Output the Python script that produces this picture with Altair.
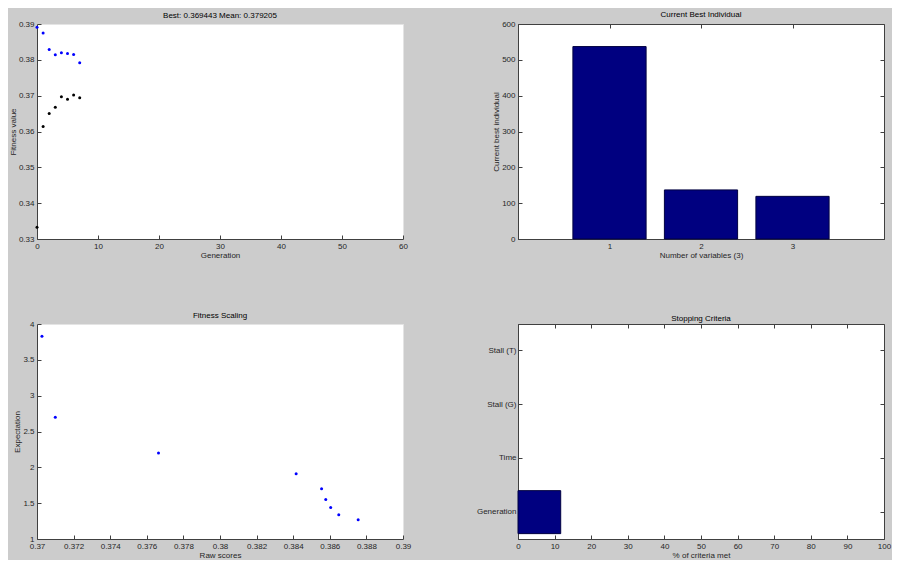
import altair as alt
import pandas as pd

# ---------------- data ----------------
generations = [0, 1, 2, 3, 4, 5, 6, 7]
best_fitness = [0.3333, 0.3614, 0.3650, 0.3668, 0.3697, 0.3690, 0.3702, 0.3694]
mean_fitness = [0.3891, 0.3875, 0.3829, 0.3814, 0.3820, 0.3818, 0.3815, 0.3792]
best_title = "Best: 0.369443 Mean: 0.379205"

variable_index = [1, 2, 3]
best_individual = [537, 137, 119]

raw_scores = [0.37027, 0.3710, 0.37664, 0.38416, 0.38555, 0.38578, 0.38605, 0.38649, 0.38755]
expectation = [3.83, 2.70, 2.20, 1.91, 1.70, 1.55, 1.44, 1.34, 1.27]

criteria = ["Generation", "Time", "Stall (G)", "Stall (T)"]
criteria_met = [11.67, 0, 0, 0]
criteria_order = ["Stall (T)", "Stall (G)", "Time", "Generation"]

gen_ticks = [0, 10, 20, 30, 40, 50, 60]
fit_ticks = [0.33, 0.34, 0.35, 0.36, 0.37, 0.38, 0.39]
var_ticks = [1, 2, 3]
ind_ticks = [0, 100, 200, 300, 400, 500, 600]
raw_ticks = [0.37, 0.372, 0.374, 0.376, 0.378, 0.38, 0.382, 0.384, 0.386, 0.388, 0.39]
exp_ticks = [1, 1.5, 2, 2.5, 3, 3.5, 4]
pct_ticks = [0, 10, 20, 30, 40, 50, 60, 70, 80, 90, 100]

# ---------------- style ----------------
FONT = "Liberation Sans"
DARK = "#404040"
LABEL = "#262626"
NAVY = "#000080"
W, H = 366, 215
TICK = 4


def main_axis(values, fmt, title, label_pad=3, band=False):
    kw = dict(values=values, ticks=False, tickSize=0, domain=True, domainColor=DARK,
              domainWidth=1, grid=False, labelFont=FONT, labelFontSize=8, labelColor=LABEL,
              labelPadding=label_pad, labelFlush=False, labelOverlap=False, labelBound=False,
              titleFont=FONT, titleFontSize=8, titleFontWeight="normal", titleColor=LABEL,
              titlePadding=1, title=title)
    if fmt:
        kw["format"] = fmt
    if band:
        kw["bandPosition"] = 0.5
    return alt.Axis(**kw)


def tick_axis(values, orient, offset, band=False):
    kw = dict(values=values, orient=orient, offset=offset, labels=False, domain=False,
              ticks=True, tickSize=TICK, tickColor=DARK, tickWidth=1, grid=False, title=None)
    if band:
        kw["bandPosition"] = 0.5
    return alt.Axis(**kw)


def title(text, off):
    return alt.TitleParams(text, font=FONT, fontSize=8, fontWeight="normal", color="#000000",
                           offset=off, anchor="middle", frame="group")


# ---------------- panel 1: fitness per generation ----------------
tl_df = pd.DataFrame({
    "gen": generations * 2,
    "fit": best_fitness + mean_fitness,
    "series": ["Best"] * len(generations) + ["Mean"] * len(generations),
})
xs1 = alt.Scale(domain=[0, 60], nice=False, zero=False)
ys1 = alt.Scale(domain=[0.33, 0.39], nice=False, zero=False)
b1 = alt.Chart(tl_df)
tl_pts = b1.mark_point(filled=True, shape="circle", size=9, opacity=1).encode(
    x=alt.X("gen:Q", scale=xs1, axis=main_axis(gen_ticks, "d", "Generation")),
    y=alt.Y("fit:Q", scale=ys1, axis=main_axis(fit_ticks, ".2f", "Fitness value")),
    color=alt.Color("series:N", scale=alt.Scale(domain=["Best", "Mean"], range=["#000000", "#0000ff"]),
                    legend=None),
)
tl_ticks = b1.mark_point(opacity=0).encode(
    x=alt.X("gen:Q", scale=xs1, axis=tick_axis(gen_ticks, "top", -H)),
    y=alt.Y("fit:Q", scale=ys1, axis=tick_axis(fit_ticks, "right", -W)),
)
tl = alt.layer(tl_pts, tl_ticks).resolve_axis(x="independent", y="independent").properties(
    width=W, height=H, title=title(best_title, 0),
    view=alt.ViewBackground(fill="white", stroke="#e4e4e4"))

# ---------------- panel 2: current best individual ----------------
tr_df = pd.DataFrame({"var": variable_index, "val": best_individual})
xs2 = alt.Scale(domain=[0, 4], nice=False, zero=False)
ys2 = alt.Scale(domain=[0, 600], nice=False, zero=True)
b2 = alt.Chart(tr_df).transform_calculate(lo="datum.var - 0.4", hi="datum.var + 0.4")
tr_bars = b2.mark_bar(color=NAVY, stroke="#000040", strokeWidth=1).encode(
    x=alt.X("lo:Q", scale=xs2, axis=main_axis(var_ticks, "d", "Number of variables (3)")),
    x2="hi:Q",
    y=alt.Y("val:Q", scale=ys2, axis=main_axis(ind_ticks, "d", "Current best individual")),
    y2=alt.datum(0),
)
tr_t1 = b2.mark_point(opacity=0).encode(
    x=alt.X("var:Q", scale=xs2, axis=tick_axis(var_ticks, "top", -H)),
    y=alt.Y("val:Q", scale=ys2, axis=tick_axis(ind_ticks, "right", -W)),
)
tr_t2 = b2.mark_point(opacity=0).encode(
    x=alt.X("var:Q", scale=xs2, axis=tick_axis(var_ticks, "bottom", -H)),
    y=alt.Y("val:Q", scale=ys2, axis=tick_axis(ind_ticks, "left", -W)),
)
tr = alt.layer(tr_bars, tr_t1, tr_t2).resolve_axis(x="independent", y="independent").properties(
    width=W, height=H, title=title("Current Best Individual", 1),
    view=alt.ViewBackground(fill="white", stroke=DARK))

# ---------------- panel 3: fitness scaling ----------------
bl_df = pd.DataFrame({"raw": raw_scores, "exp": expectation})
xs3 = alt.Scale(domain=[0.37, 0.39], nice=False, zero=False)
ys3 = alt.Scale(domain=[1, 4], nice=False, zero=False)
b3 = alt.Chart(bl_df)
bl_pts = b3.mark_point(filled=True, shape="circle", size=9, opacity=1, color="#0000ff").encode(
    x=alt.X("raw:Q", scale=xs3, axis=main_axis(raw_ticks, ".3~f", "Raw scores")),
    y=alt.Y("exp:Q", scale=ys3, axis=main_axis(exp_ticks, "~g", "Expectation")),
)
bl_ticks = b3.mark_point(opacity=0).encode(
    x=alt.X("raw:Q", scale=xs3, axis=tick_axis(raw_ticks, "top", -H)),
    y=alt.Y("exp:Q", scale=ys3, axis=tick_axis(exp_ticks, "right", -W)),
)
bl = alt.layer(bl_pts, bl_ticks).resolve_axis(x="independent", y="independent").properties(
    width=W, height=H, title=title("Fitness Scaling", 0),
    view=alt.ViewBackground(fill="white", stroke="#e4e4e4"))

# ---------------- panel 4: stopping criteria ----------------
br_df = pd.DataFrame({"crit": criteria, "pct": criteria_met})
xs4 = alt.Scale(domain=[0, 100], nice=False, zero=True)
ys4 = alt.Scale(domain=criteria_order, paddingInner=0.2, paddingOuter=0.1)
b4 = alt.Chart(br_df)
br_bars = b4.mark_bar(color=NAVY, stroke="#000040", strokeWidth=1).encode(
    x=alt.X("pct:Q", scale=xs4, axis=main_axis(pct_ticks, "d", "% of criteria met")),
    y=alt.Y("crit:N", scale=ys4, axis=main_axis(criteria_order, None, None, label_pad=2, band=True)),
    strokeOpacity=alt.condition("datum.pct > 0", alt.value(1), alt.value(0)),
)
br_t1 = b4.mark_point(opacity=0).encode(
    x=alt.X("pct:Q", scale=xs4, axis=tick_axis(pct_ticks, "top", -H)),
    y=alt.Y("crit:N", scale=ys4, axis=tick_axis(criteria_order, "right", -W, band=True)),
)
br_t2 = b4.mark_point(opacity=0).encode(
    x=alt.X("pct:Q", scale=xs4, axis=tick_axis(pct_ticks, "bottom", -H)),
    y=alt.Y("crit:N", scale=ys4, axis=tick_axis(criteria_order, "left", -W, band=True)),
)
br = alt.layer(br_bars, br_t1, br_t2).resolve_axis(x="independent", y="independent").properties(
    width=W, height=H, title=title("Stopping Criteria", 1),
    view=alt.ViewBackground(fill="white", stroke=DARK))

chart = alt.concat(
    tl, tr, bl, br, columns=2, spacing={"row": 85, "column": 115}, bounds="flush"
).properties(
    padding={"left": 0, "top": 2, "right": 0, "bottom": 0}
).configure(background="#cccccc")

chart.save("out.html", embed_options={"renderer": "svg", "actions": False})
